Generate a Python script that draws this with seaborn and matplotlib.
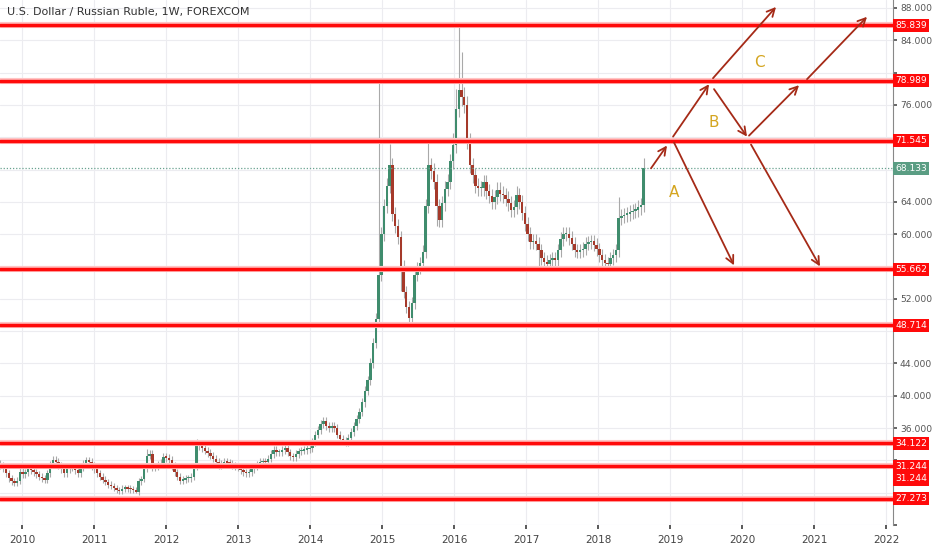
import numpy as np
import pandas as pd
import matplotlib.pyplot as plt
import seaborn as sns

# chart text
title = "U.S. Dollar / Russian Ruble, 1W, FOREXCOM"
years = list(range(2010, 2023))
price_ticks = [24, 36, 40, 44, 52, 60, 64, 76, 84, 88]

# two-week closes, starting mid-Sept 2009
start = "2009-09-14"
first_open = 31.6
closes = [
    31.4, 31.0, 30.4, 29.8, 29.4, 29.2, 29.5, 30.6, 30.3, 30.5,
    30.9, 30.8, 30.5, 30.3, 30.0, 29.8, 29.6, 30.4, 31.5, 32.1,
    31.8, 31.4, 30.9, 30.4, 30.9, 31.1, 31.2, 30.8, 30.4, 31.1,
    31.6, 32.0, 31.8, 31.3, 30.9, 30.4, 30.0, 29.6, 29.3, 29.0,
    28.8, 28.6, 28.3, 28.2, 28.5, 28.6, 28.5, 28.4, 28.3, 28.1,
    29.4, 29.7, 31.0, 32.6, 32.8, 31.1, 31.2, 31.5, 31.7, 32.4,
    32.3, 32.1, 31.3, 30.5, 30.0, 29.5, 29.6, 29.8, 29.8, 30.0,
    31.2, 33.8, 34.0, 33.5, 33.2, 32.9, 32.6, 32.2, 31.8, 31.4,
    31.6, 31.8, 31.7, 31.6, 31.4, 31.2, 31.1, 30.8, 30.5, 30.4,
    30.5, 30.9, 31.2, 31.5, 31.8, 31.9, 31.8, 32.2, 32.8, 33.3,
    33.0, 33.0, 33.3, 33.5, 33.0, 32.5, 32.4, 32.8, 33.1, 33.2,
    33.3, 33.4, 33.5, 34.3, 35.2, 35.8, 36.5, 36.9, 36.3, 36.0,
    36.2, 36.0, 35.2, 34.7, 34.4, 34.2, 34.8, 35.5, 36.3, 37.1,
    38.0, 39.2, 40.6, 41.9, 44.0, 46.5, 49.5, 55.0, 60.0, 63.5,
    66.0, 68.5, 62.5, 61.0, 59.6, 56.0, 52.8, 51.0, 49.6, 51.5,
    55.0, 55.8, 56.4, 57.8, 63.5, 68.5, 67.8, 66.5, 63.5, 61.8,
    63.8, 65.6, 66.5, 69.0, 71.0, 75.5, 77.8, 77.0, 76.0, 71.5,
    68.5, 67.3, 66.0, 65.7, 65.7, 66.4, 65.3, 64.7, 64.0, 64.6,
    65.5, 65.0, 64.8, 64.4, 63.8, 63.0, 63.4, 64.8, 64.0, 62.6,
    61.3, 60.0, 59.0, 59.2, 58.8, 58.0, 57.0, 56.6, 56.3, 56.8,
    57.0, 56.8, 58.0, 59.4, 60.0, 60.0, 59.5, 58.8, 58.0, 57.8,
    58.0, 58.2, 58.8, 59.0, 59.1, 58.7, 58.1, 57.4, 56.8, 56.4,
    56.3, 57.0, 57.4, 58.0, 62.0, 62.2, 62.4, 62.5, 62.7, 62.9,
    63.0, 63.3, 63.6, 68.133,
]
# notable wick extremes
spike_highs = {53: 33.4, 71: 34.6, 137: 79.0, 141: 71.2, 155: 71.4, 164: 72.5,
               165: 78.0, 166: 85.8, 167: 82.6, 168: 78.2, 187: 66.0, 224: 64.6, 233: 69.4}
spike_lows = {49: 27.9, 145: 53.0, 148: 48.7, 158: 61.0, 195: 55.9, 220: 55.8}

levels = [85.839, 78.989, 71.545, 55.662, 48.714, 34.122, 31.244, 27.273]
last_price = 68.133

# scenario arrows (decimal year, price)
arrows = [
    ((2018.736, 68.15), (2018.958, 70.97)),
    ((2019.056, 71.33), (2019.889, 56.14)),
    ((2019.042, 72.07), (2019.542, 78.56)),
    ((2019.597, 79.30), (2020.472, 88.12)),
    ((2019.611, 77.95), (2020.069, 72.07)),
    ((2020.097, 72.19), (2020.792, 78.44)),
    ((2020.903, 79.18), (2021.736, 86.90)),
    ((2020.125, 71.09), (2021.083, 56.01)),
]
letters = [("A", 2019.056, 65.1), ("B", 2019.611, 73.8), ("C", 2020.236, 81.3)]

sns.set_theme(style="white")
plt.rcParams['font.family'] = ['DejaVu Sans']

dates = pd.date_range(start, periods=len(closes), freq="14D")
t = dates.year + (dates.dayofyear - 1) / 365.25
c = np.array(closes)
o = np.concatenate([[first_open], c[:-1]])
hi = np.maximum(o, c) * 1.014
lo = np.minimum(o, c) * 0.986
for k, v in spike_highs.items():
    hi[k] = v
for k, v in spike_lows.items():
    lo[k] = v
df = pd.DataFrame({"t": t, "open": o, "close": c, "high": hi, "low": lo})
df["up"] = df["close"] >= df["open"]

fig = plt.figure(figsize=(9.32, 5.5), dpi=100)
ax = fig.add_axes([0, 25 / 550, 893 / 932, 525 / 550])

# candles
ax.vlines(df["t"], df["low"], df["high"], color="#a9a9a9", lw=0.8, zorder=2)
body = (df["close"] - df["open"]).abs().clip(lower=0.18)
ax.bar(df["t"], body, bottom=df[["open", "close"]].min(axis=1), width=0.034,
       color=np.where(df["up"], "#3f8c6d", "#a5392a"), edgecolor="none", zorder=2.5)

# support / resistance
for lv in levels:
    ax.axhline(lv, color="#ffc4c4", lw=4.4, zorder=3)
    ax.axhline(lv, color="#ff0a0a", lw=2.5, zorder=3.1)
ax.axhline(last_price, color="#6aa390", lw=0.9, ls=(0, (1, 1.5)), zorder=3)

for (x0, y0), (x1, y1) in arrows:
    ax.annotate("", xy=(x1, y1), xytext=(x0, y0),
                arrowprops=dict(arrowstyle="->", color="#a52a17", lw=1.3,
                                mutation_scale=14, shrinkA=0, shrinkB=0), zorder=4)
for s, x, y in letters:
    ax.text(x, y, s, color="#d4a520", fontsize=11, ha="center", va="center", zorder=4)

ax.set_xlim(2009.694, 2022.097)
ax.set_ylim(24.64, 88.98)
ax.set_xticks(years)
ax.set_xticklabels([str(y) for y in years])
ax.set_yticks(range(24, 89, 4))
ax.set_yticklabels([f"{p:.3f}" if p in price_ticks[1:] else "" for p in range(24, 89, 4)])
ax.yaxis.tick_right()
ax.tick_params(axis="y", labelsize=6.6, colors="#555555", length=3, pad=2, direction="out", right=True)
ax.tick_params(axis="x", labelsize=7.5, colors="#444444", length=3, pad=4, direction="out", bottom=True)
ax.grid(True, color="#ececf0", lw=0.8)
ax.set_axisbelow(True)
for side in ["top", "left", "bottom"]:
    ax.spines[side].set_visible(False)
ax.spines["right"].set_color("#888888")
ax.spines["right"].set_linewidth(0.8)


def price_tag(value, y, fc):
    ax.annotate(f"{value:.3f}", xy=(1.0, y), xycoords=("axes fraction", "data"),
                xytext=(1.5, 0), textcoords="offset points", ha="left", va="center",
                fontsize=6.6, color="white", annotation_clip=False,
                bbox=dict(boxstyle="square,pad=0.22", fc=fc, ec="none"), zorder=6)


for lv in levels:
    price_tag(lv, lv, "#ff0a0a")
price_tag(31.244, 31.244 - 1.55, "#ff0a0a")
price_tag(last_price, last_price, "#5a9d83")

ax.text(0.008, 0.978, title, transform=ax.transAxes, fontsize=8, color="#333333",
        ha="left", va="center", zorder=7)

fig.savefig("out.png", dpi=100)
